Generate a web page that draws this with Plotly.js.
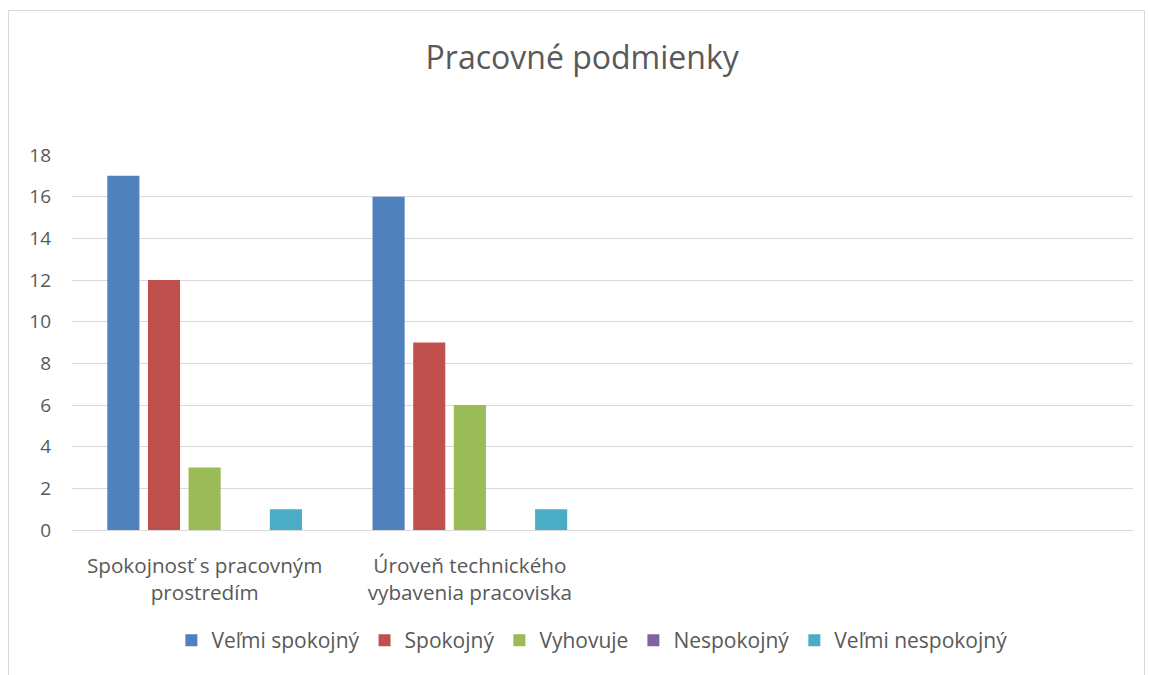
<!DOCTYPE html>
<html>
<head>
<meta charset="utf-8">
<script src="https://cdn.plot.ly/plotly-3.0.1.min.js"></script>
<style>
html,body{margin:0;padding:0;background:#fff;}
#frame{position:absolute;left:8px;top:10px;width:1137px;height:680px;border:1px solid #d9d9d9;box-sizing:border-box;background:#fff;}
#chart{position:absolute;left:0;top:0;width:1135px;height:665px;}
</style>
</head>
<body>
<div id="frame"><div id="chart"></div></div>
<script>
const categories = ["Spokojnosť s pracovným<br>prostredím", "Úroveň technického<br>vybavenia pracoviska", " ", "  "];
const seriesNames = ["Veľmi spokojný", "Spokojný", "Vyhovuje", "Nespokojný", "Veľmi nespokojný"];
const velmiSpokojny = [17, 16, null, null];
const spokojny = [12, 9, null, null];
const vyhovuje = [3, 6, null, null];
const nespokojny = [null, null, null, null];
const velmiNespokojny = [1, 1, null, null];
const colors = ["#4f81bd", "#c0504d", "#9bbb59", "#8064a2", "#4bacc6"];

const seriesValues = [velmiSpokojny, spokojny, vyhovuje, nespokojny, velmiNespokojny];
const font = "'Open Sans', sans-serif";
const data = seriesValues.map((vals, i) => ({
  type: "bar",
  name: seriesNames[i],
  x: categories,
  y: vals,
  marker: {color: colors[i]},
  hoverinfo: "y"
}));

const layout = {
  width: 1135, height: 665,
  margin: {l: 63, r: 11, t: 144, b: 146},
  paper_bgcolor: "#fff", plot_bgcolor: "#fff",
  font: {family: font, color: "#595959", size: 19},
  title: {text: "Pracovné podmienky", font: {family: font, size: 32, color: "#595959"}, x: 0.505, xanchor: "center", y: 0.93, yanchor: "middle"},
  barmode: "group",
  bargap: 0.234,
  bargroupgap: 0.21,
  xaxis: {type: "category", showgrid: false, zeroline: false, showline: false, ticks: "", tickfont: {size: 20.7, color: "#595959"}, ticklabelstandoff: 21, fixedrange: true},
  yaxis: {range: [0, 18], dtick: 2, showgrid: true, gridcolor: "#d9d9d9", gridwidth: 1, zeroline: true, zerolinecolor: "#d9d9d9", zerolinewidth: 1, showline: false, ticks: "", tickfont: {size: 19, color: "#595959"}, ticklabelstandoff: 20, fixedrange: true},
  legend: {orientation: "h", x: 0.49, xanchor: "center", y: -0.295, yanchor: "middle", font: {size: 21, color: "#595959"}, itemwidth: 20, traceorder: "normal"},
  showlegend: true
};

Plotly.newPlot("chart", data, layout, {displayModeBar: false, staticPlot: true});
</script>
</body>
</html>
